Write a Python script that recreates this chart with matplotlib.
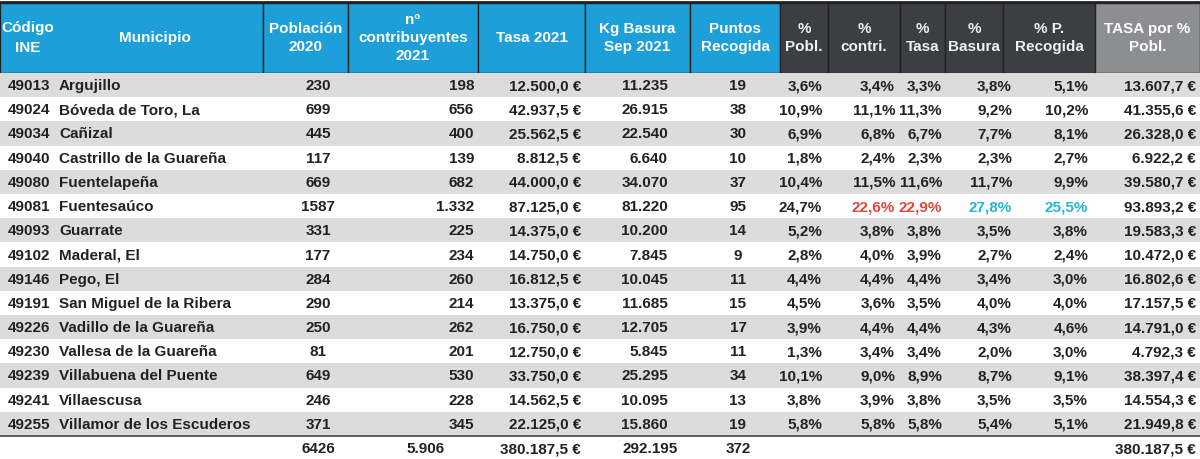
"""
Recreate the municipal waste-tax table as an image
"""
import matplotlib.pyplot as plt
from matplotlib.patches import Rectangle

codes = ['49013', '49024', '49034', '49040', '49080', '49081', '49093', '49102',
         '49146', '49191', '49226', '49230', '49239', '49241', '49255']
municipios = ['Argujillo', 'Bóveda de Toro, La', 'Cañizal', 'Castrillo de la Guareña',
              'Fuentelapeña', 'Fuentesaúco', 'Guarrate', 'Maderal, El', 'Pego, El',
              'San Miguel de la Ribera', 'Vadillo de la Guareña', 'Vallesa de la Guareña',
              'Villabuena del Puente', 'Villaescusa', 'Villamor de los Escuderos']
poblacion = ['230', '699', '445', '117', '669', '1587', '331', '177', '284', '290',
             '250', '81', '649', '246', '371']
contribuyentes = ['198', '656', '400', '139', '682', '1.332', '225', '234', '260', '214',
                  '262', '201', '530', '228', '345']
tasa = ['12.500,0 €', '42.937,5 €', '25.562,5 €', '8.812,5 €', '44.000,0 €', '87.125,0 €',
        '14.375,0 €', '14.750,0 €', '16.812,5 €', '13.375,0 €', '16.750,0 €', '12.750,0 €',
        '33.750,0 €', '14.562,5 €', '22.125,0 €']
kg_basura = ['11.235', '26.915', '22.540', '6.640', '34.070', '81.220', '10.200', '7.845',
             '10.045', '11.685', '12.705', '5.845', '25.295', '10.095', '15.860']
puntos = ['19', '38', '30', '10', '37', '95', '14', '9', '11', '15', '17', '11', '34', '13', '19']
pct_pobl = ['3,6%', '10,9%', '6,9%', '1,8%', '10,4%', '24,7%', '5,2%', '2,8%', '4,4%',
            '4,5%', '3,9%', '1,3%', '10,1%', '3,8%', '5,8%']
pct_contri = ['3,4%', '11,1%', '6,8%', '2,4%', '11,5%', '22,6%', '3,8%', '4,0%', '4,4%',
              '3,6%', '4,4%', '3,4%', '9,0%', '3,9%', '5,8%']
pct_tasa = ['3,3%', '11,3%', '6,7%', '2,3%', '11,6%', '22,9%', '3,8%', '3,9%', '4,4%',
            '3,5%', '4,4%', '3,4%', '8,9%', '3,8%', '5,8%']
pct_basura = ['3,8%', '9,2%', '7,7%', '2,3%', '11,7%', '27,8%', '3,5%', '2,7%', '3,4%',
              '4,0%', '4,3%', '2,0%', '8,7%', '3,5%', '5,4%']
pct_recogida = ['5,1%', '10,2%', '8,1%', '2,7%', '9,9%', '25,5%', '3,8%', '2,4%', '3,0%',
                '4,0%', '4,6%', '3,0%', '9,1%', '3,5%', '5,1%']
tasa_pct = ['13.607,7 €', '41.355,6 €', '26.328,0 €', '6.922,2 €', '39.580,7 €', '93.893,2 €',
            '19.583,3 €', '10.472,0 €', '16.802,6 €', '17.157,5 €', '14.791,0 €', '4.792,3 €',
            '38.397,4 €', '14.554,3 €', '21.949,8 €']
totals = ['6426', '5.906', '380.187,5 €', '292.195', '372', '380.187,5 €']
headers = ['Código\nINE', 'Municipio', 'Población\n2020', 'nº\ncontribuyentes\n2021',
           'Tasa 2021', 'Kg Basura\nSep 2021', 'Puntos\nRecogida', '%\nPobl.', '%\ncontri.',
           '%\nTasa', '%\nBasura', '% P.\nRecogida', 'TASA por %\nPobl.']

BLUE = '#1d9fd9'
DARK = '#3b3e42'
GREY = '#8c8e91'
ROW_GREY = '#dcdcdc'
RED = '#e0463c'
CYAN = '#27b4d6'

plt.rcParams['font.family'] = ['Liberation Sans Narrow', 'Liberation Sans', 'DejaVu Sans']

# column edges in pixels
edges = [0, 60, 263, 348, 478, 585, 690, 780, 828, 900, 945, 1003, 1095, 1200]
head_bottom = 73
row_h = 24.2
fs = 11

fig = plt.figure(figsize=(12, 4.59), dpi=100)
ax = fig.add_axes([0, 0, 1, 1])
ax.set_xlim(0, 1200)
ax.set_ylim(459, 0)
ax.axis('off')
fig.patch.set_facecolor('white')

# header
head_colors = [BLUE] * 7 + [DARK] * 5 + [GREY]
for i, h in enumerate(headers):
    x0, x1 = edges[i], edges[i + 1]
    if i == 0:
        x1 = edges[2]
    if i == 1:
        continue
    ax.add_patch(Rectangle((x0, 3), x1 - x0, head_bottom - 3, facecolor=head_colors[i],
                           edgecolor='#222222', linewidth=1))
ax.plot([0, 1200], [2, 2], color='#222222', lw=2)
ax.text(28, 38, headers[0], color='white', fontsize=fs, fontweight='bold', ha='center', va='center', linespacing=1.5)
ax.text(155, 38, headers[1], color='white', fontsize=fs, fontweight='bold', ha='center', va='center')
for i in range(2, 13):
    xc = (edges[i] + edges[i + 1]) / 2
    col = 'white' if i < 7 or i == 12 else '#f0f0f0'
    ax.text(xc, 38, headers[i], color=col, fontsize=fs, fontweight='bold',
            ha='center', va='center', linespacing=1.4)

# body
cols = [poblacion, contribuyentes, tasa, kg_basura, puntos, pct_pobl, pct_contri,
        pct_tasa, pct_basura, pct_recogida, tasa_pct]
# alignment anchors: (x, ha)
anchors = [(318, 'center'), (474, 'right'), (581, 'right'), (668, 'right'), (738, 'center'),
           (822, 'right'), (895, 'right'), (942, 'right'), (1012, 'right'), (1088, 'right'),
           (1196, 'right')]
for r in range(len(codes)):
    y0 = head_bottom + r * row_h
    yc = y0 + row_h / 2 + 1
    if r % 2 == 0:
        ax.add_patch(Rectangle((0, y0), 1200, row_h, facecolor=ROW_GREY, edgecolor='none'))
    bold_row = r == 5
    fw = 'bold' if bold_row else 'semibold'
    ax.text(8, yc, codes[r], fontsize=fs, fontweight='bold', ha='left', va='center', color='#222222')
    ax.text(59, yc, municipios[r], fontsize=fs, fontweight=fw, ha='left', va='center', color='#222222')
    for c, (vals, (x, ha)) in enumerate(zip(cols, anchors)):
        color = '#222222'
        if bold_row and c in (6, 7):
            color = RED
        if bold_row and c in (8, 9):
            color = CYAN
        ax.text(x, yc, vals[r], fontsize=fs, fontweight=fw, ha=ha, va='center', color=color)

# totals row
yt = head_bottom + len(codes) * row_h + 13
ax.plot([0, 1200], [yt - 13, yt - 13], color='#444444', lw=1.2)
tot_anchors = [(318, 'center'), (426, 'center'), (581, 'right'), (650, 'center'),
               (738, 'center'), (1196, 'right')]
for v, (x, ha) in zip(totals, tot_anchors):
    ax.text(x, yt, v, fontsize=fs, fontweight='bold', ha=ha, va='center', color='#222222')

fig.savefig('out.png', dpi=100, facecolor='white')
